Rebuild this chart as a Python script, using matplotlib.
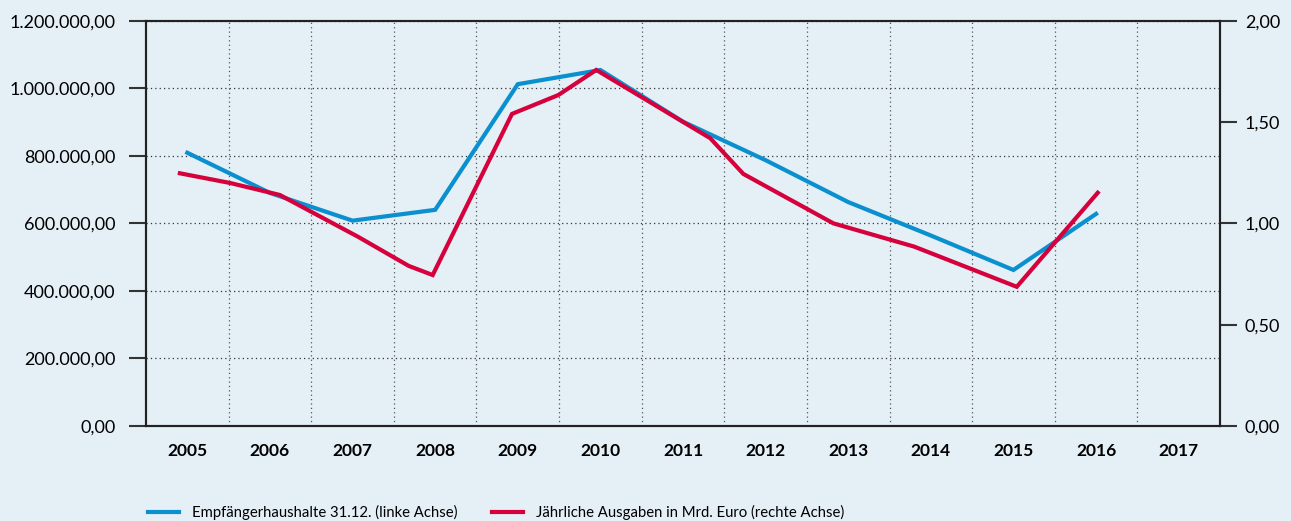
import matplotlib.pyplot as plt
from matplotlib.ticker import FixedLocator, FuncFormatter, MultipleLocator


OUTPUT_PATH = "out.png"
BG_COLOR = "#e4eff6"
BLUE = "#0a8fcf"
RED = "#d5003c"

YEARS = [2005, 2006, 2007, 2008, 2009, 2010, 2011, 2012, 2013, 2014, 2015, 2016, 2017]

# Empfängerhaushalte am 31.12. (linke Achse)
households_years = [2005, 2006, 2007, 2008, 2009, 2010, 2011, 2012, 2013, 2014, 2015, 2016]
households = [809000, 690000, 608000, 640000, 1012000, 1054000, 901000, 787000,
              663000, 564000, 462000, 628000]

# Jährliche Ausgaben in Mrd. Euro (rechte Achse), Stützpunkte wie im Original
spending_years = [2004.91, 2005.52, 2006.12, 2007.07, 2007.68, 2007.97, 2008.93,
                  2009.49, 2009.95, 2011.33, 2011.73, 2012.82, 2013.80, 2015.04, 2016.02]
spending = [1.247, 1.199, 1.140, 0.933, 0.790, 0.745, 1.540, 1.633, 1.757,
            1.420, 1.244, 1.000, 0.885, 0.687, 1.151]

LEGEND_LABELS = ["Empfängerhaushalte 31.12. (linke Achse)",
                 "Jährliche Ausgaben in Mrd. Euro (rechte Achse)"]


def german_number(value, _pos=None):
    """Format a number with German separators, e.g. 1.200.000,00."""
    text = f"{value:,.2f}"
    return text.replace(",", "X").replace(".", ",").replace("X", ".")


def main():
    plt.rcParams["font.family"] = ["Lato", "DejaVu Sans"]

    fig = plt.figure(figsize=(12.91, 5.21), dpi=100, facecolor=BG_COLOR)
    ax = fig.add_axes([0.1131, 0.1823, 0.8319, 0.778])
    ax.set_facecolor(BG_COLOR)
    ax2 = ax.twinx()

    blue_line, = ax.plot(households_years, households, color=BLUE, linewidth=3.0,
                         solid_joinstyle="miter", zorder=3)
    red_line, = ax2.plot(spending_years, spending, color=RED, linewidth=3.0,
                         solid_joinstyle="miter", zorder=3)

    ax.set_xlim(YEARS[0] - 0.5, YEARS[-1] + 0.5)
    ax.set_ylim(0, 1200000)
    ax2.set_ylim(0, 2.0)

    ax.set_xticks(YEARS)
    ax.set_xticklabels([str(y) for y in YEARS], fontweight="bold", fontsize=12.5)
    ax.xaxis.set_minor_locator(FixedLocator([y + 0.5 for y in YEARS[:-1]]))
    ax.tick_params(axis="x", which="both", length=0, pad=12)

    ax.yaxis.set_major_locator(MultipleLocator(200000))
    ax.yaxis.set_major_formatter(FuncFormatter(german_number))
    ax.tick_params(axis="y", length=12, width=1.5, color="#333333", pad=10,
                   labelsize=13)
    ax2.yaxis.set_major_locator(MultipleLocator(0.5))
    ax2.yaxis.set_major_formatter(FuncFormatter(german_number))
    ax2.tick_params(axis="y", length=12, width=1.5, color="#333333", pad=6,
                    labelsize=13)

    ax.grid(axis="y", which="major", linestyle=(0, (1, 2.5)), color="#333333",
            linewidth=0.9)
    ax.grid(axis="x", which="minor", linestyle=(0, (1, 2.5)), color="#555555",
            linewidth=0.9)

    for axis in (ax, ax2):
        for spine in axis.spines.values():
            spine.set_color("#222222")
            spine.set_linewidth(1.5)

    fig.legend([blue_line, red_line], LEGEND_LABELS, loc="center left",
               bbox_to_anchor=(0.109, 0.016), ncol=2, frameon=False,
               fontsize=10.7, handlelength=2.1, handletextpad=0.85,
               columnspacing=2.3, borderpad=0)

    fig.savefig(OUTPUT_PATH, dpi=100, facecolor=BG_COLOR)
    plt.close(fig)


if __name__ == "__main__":
    main()
